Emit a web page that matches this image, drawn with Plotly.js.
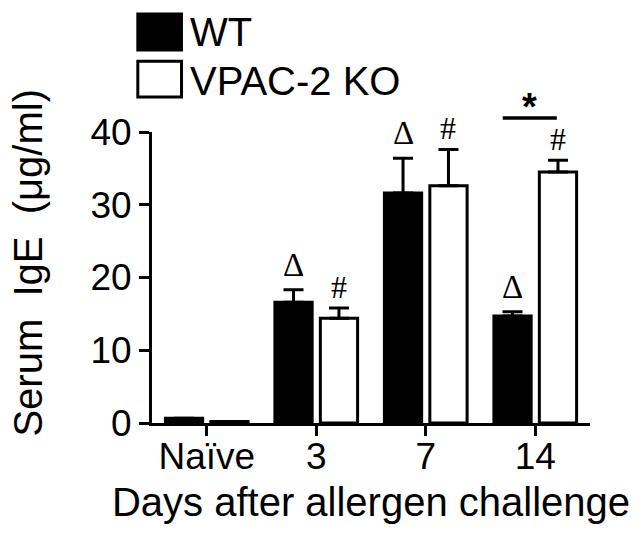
<!DOCTYPE html>
<html>
<head>
<meta charset="utf-8">
<script src="https://cdn.plot.ly/plotly-3.0.1.min.js"></script>
<style>
  body { margin: 0; background: #fff; }
  #plot { width: 644px; height: 549px; }
</style>
</head>
<body>
<div id="plot"></div>
<script>
// serum IgE per group
let days = ["Naïve", "3", "7", "14"];
let wtName = "WT";
let koName = "VPAC-2 KO";
let wtMean = [0.65, 16.6, 31.6, 14.7];
let wtErr = [0, 1.7, 4.8, 0.6];
let koMean = [0.2, 14.4, 32.6, 34.5];
let koErr = [0, 1.4, 5.0, 1.6];
let wtMarks = ["", "\u0394", "\u0394", "\u0394"];
let koMarks = ["", "#", "#", "#"];
// significance bracket between WT and KO at day 14
let sigDay = 3;
let sigLabel = "*";
let yTitle = "Serum  IgE  (\u03bcg/ml)";
let xTitle = "Days after allergen challenge";

let zeros = days.map(() => 0);
let xIdx = days.map((d, i) => i);
let off = 0.207;
let font = "Liberation Sans, Arial, sans-serif";
let serif = "Liberation Serif, Times New Roman, serif";

var wt = {
  x: days, y: wtMean, type: "bar", name: wtName,
  marker: { color: "#000", line: { color: "#000", width: 3 } },
  error_y: { type: "data", symmetric: false, array: wtErr, arrayminus: zeros,
             color: "#000", thickness: 3, width: 10 }
};
var ko = {
  x: days, y: koMean, type: "bar", name: koName,
  marker: { color: "#fff", line: { color: "#000", width: 3 } },
  error_y: { type: "data", symmetric: false, array: koErr, arrayminus: zeros,
             color: "#000", thickness: 3, width: 10 }
};

let annotations = [];
xIdx.forEach(i => {
  if (wtMarks[i]) annotations.push({
    x: i - off, y: wtMean[i] + wtErr[i], xref: "x", yref: "y",
    text: wtMarks[i], showarrow: false, yanchor: "bottom", yshift: 5,
    font: { family: serif, size: 33, color: "#000" }
  });
  if (koMarks[i]) annotations.push({
    x: i + off, y: koMean[i] + koErr[i], xref: "x", yref: "y",
    text: koMarks[i], showarrow: false, yanchor: "bottom", yshift: 1,
    font: { family: serif, size: 32, color: "#000" }
  });
});
annotations.push({
  x: sigDay - 0.05, y: 1.085, xref: "x", yref: "paper", text: "<b>" + sigLabel + "</b>",
  showarrow: false, yanchor: "middle", font: { family: font, size: 38, color: "#000" }
});

// y title as annotation so it can sit a bit above the middle like the original
annotations.push({
  x: -0.282, y: 0.553, xref: "paper", yref: "paper", text: yTitle, showarrow: false,
  textangle: -90, xanchor: "center", yanchor: "middle",
  font: { family: font, size: 40, color: "#000" }
});

// hand made legend, plotly's legend swatches are too small
annotations.push({
  x: 0.083, y: 1.343, xref: "paper", yref: "paper", text: wtName, showarrow: false,
  xanchor: "left", yanchor: "middle", font: { family: font, size: 40, color: "#000" }
});
annotations.push({
  x: 0.083, y: 1.176, xref: "paper", yref: "paper", text: koName, showarrow: false,
  xanchor: "left", yanchor: "middle", font: { family: font, size: 40, color: "#000" }
});

var shapes = [
  { type: "rect", xref: "paper", yref: "paper", x0: -0.0358, x1: 0.0707, y0: 1.277, y1: 1.411,
    fillcolor: "#000", line: { width: 0 } },
  { type: "rect", xref: "paper", yref: "paper", x0: -0.0324, x1: 0.0674, y0: 1.12, y1: 1.243,
    fillcolor: "#fff", line: { color: "#000", width: 3 } },
  { type: "line", xref: "x", yref: "paper", x0: sigDay - off - 0.09, x1: sigDay + off - 0.01,
    y0: 1.048, y1: 1.048, line: { color: "#000", width: 3.5 } }
];

var layout = {
  width: 644, height: 549,
  margin: { l: 152, r: 54, t: 132, b: 126 },
  paper_bgcolor: "#fff", plot_bgcolor: "#fff",
  showlegend: false,
  barmode: "group", bargap: 0.17, bargroupgap: 0.18,
  font: { family: font, color: "#000" },
  xaxis: {
    type: "category", range: [-0.5, 3.5],
    showline: true, linecolor: "#000", linewidth: 3,
    ticks: "outside", ticklen: 10, tickwidth: 3, tickcolor: "#000",
    tickfont: { size: 37 }, ticklabelstandoff: -11, showgrid: false, zeroline: false,
    title: { text: xTitle, font: { size: 40 }, standoff: 12 }
  },
  yaxis: {
    range: [0, 40], tickvals: [0, 10, 20, 30, 40],
    showline: true, linecolor: "#000", linewidth: 3,
    ticks: "outside", ticklen: 10, tickwidth: 3, tickcolor: "#000",
    tickfont: { size: 37 }, showgrid: false, zeroline: false
  },
  annotations: annotations,
  shapes: shapes
};

Plotly.newPlot("plot", [wt, ko], layout, { staticPlot: true });
</script>
</body>
</html>
